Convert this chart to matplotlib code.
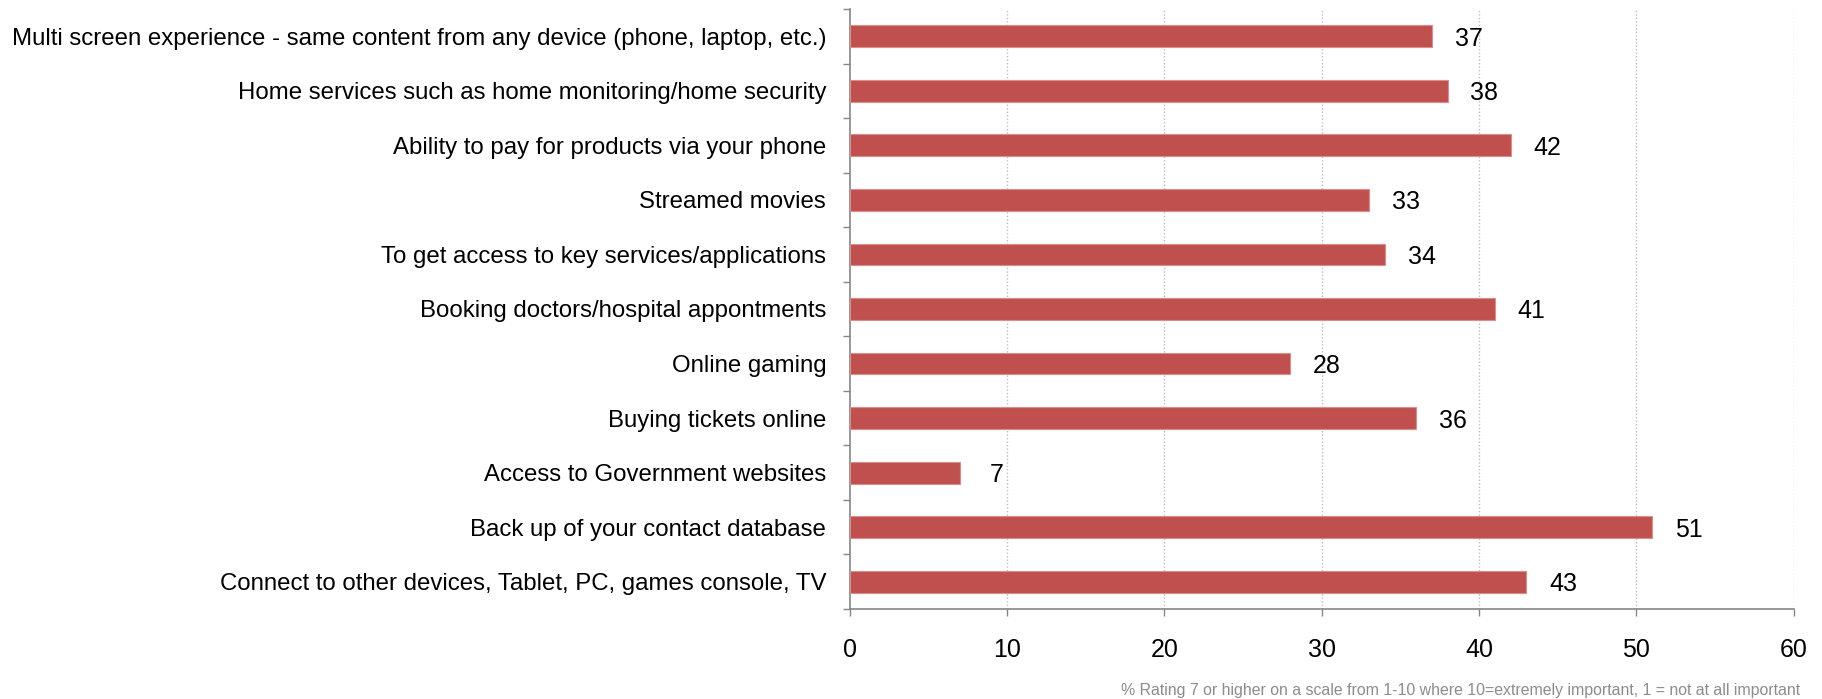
import numpy as np
import matplotlib
matplotlib.use("Agg")
import matplotlib.pyplot as plt

plt.rcParams['font.family'] = ['Liberation Sans', 'DejaVu Sans']

categories = [
    "Multi screen experience - same content from any device (phone, laptop, etc.)",
    "Home services such as home monitoring/home security",
    "Ability to pay for products via your phone",
    "Streamed movies",
    "To get access to key services/applications",
    "Booking doctors/hospital appontments",
    "Online gaming",
    "Buying tickets online",
    "Access to Government websites",
    "Back up of your contact database",
    "Connect to other devices, Tablet, PC, games console, TV",
]
values = [37, 38, 42, 33, 34, 41, 28, 36, 7, 51, 43]
x_ticks = [0, 10, 20, 30, 40, 50, 60]
footnote = "% Rating 7 or higher on a scale from 1-10 where 10=extremely important, 1 = not at all important"

bar_color = "#c0504d"
axis_color = "#868686"

fig = plt.figure(figsize=(18.22, 6.99), dpi=100)
ax = fig.add_axes([0.4664, 0.1288, 0.5181, 0.8583])

y = np.arange(len(categories))
ax.barh(y, values, height=0.40, color=bar_color, edgecolor="#d98e8c", linewidth=0.8, zorder=3)

for yi, v in zip(y, values):
    ax.annotate(str(v), xy=(v, yi), xytext=(26.5, 0), textcoords="offset points",
                ha="center", va="center_baseline", fontsize=18, color="black")

ax.set_xlim(0, 60)
ax.set_ylim(len(categories) - 0.5, -0.5)

ax.set_xticks(x_ticks)
ax.set_xticklabels([str(t) for t in x_ticks])
ax.tick_params(axis="x", direction="out", length=5, width=1, color=axis_color,
               labelsize=18, pad=16)

ax.set_yticks(y)
ax.set_yticklabels(categories)
ax.set_yticks(np.arange(len(categories) + 1) - 0.5, minor=True)
ax.tick_params(axis="y", which="major", length=0, labelsize=17.3, pad=17)
ax.tick_params(axis="y", which="minor", direction="out", length=5, width=1, color=axis_color)

ax.grid(axis="x", linestyle=(0, (1, 1.5)), color="#bdbdbd", linewidth=1, zorder=0)
ax.xaxis.get_gridlines()[0].set_visible(False)

for side in ("top", "right"):
    ax.spines[side].set_visible(False)
for side in ("left", "bottom"):
    ax.spines[side].set_color(axis_color)
    ax.spines[side].set_linewidth(1.2)

fig.text(0.988, 0.002, footnote, ha="right", va="bottom", fontsize=11.4, color="#8c8c8c")

fig.savefig("out.png", dpi=100)
